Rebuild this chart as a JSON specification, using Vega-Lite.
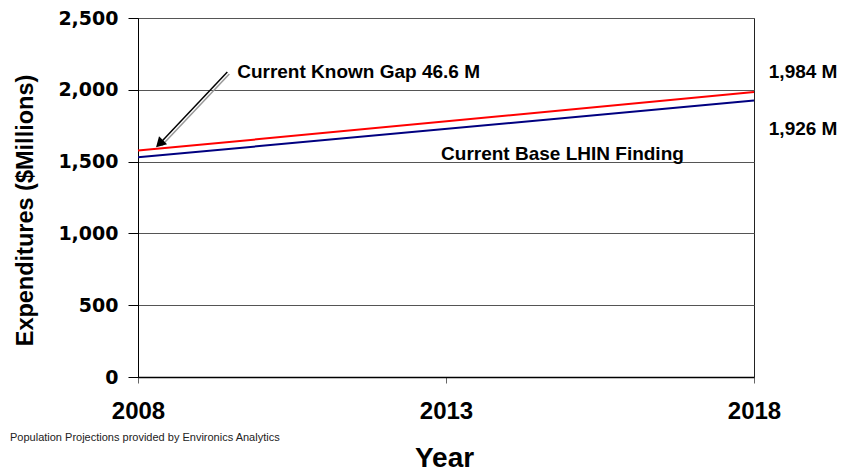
{
  "$schema": "https://vega.github.io/schema/vega-lite/v6.json",
  "width": 616,
  "height": 359,
  "autosize": {"type": "none"},
  "padding": {"left": 138, "top": 18, "right": 87, "bottom": 95},
  "background": "white",
  "config": {
    "view": {"stroke": "#222", "strokeWidth": 1},
    "font": "Liberation Sans"
  },
  "title": {
    "text": "Population Projections provided by Environics Analytics",
    "orient": "bottom",
    "anchor": "start",
    "frame": "group",
    "font": "Liberation Sans",
    "fontSize": 11,
    "fontWeight": "normal",
    "color": "#222",
    "baseline": "middle",
    "dx": -128,
    "offset": -34
  },
  "datasets": {
    "spending": [
      {"year": 2008, "value": 1576.6, "series": "Known Gap"},
      {"year": 2018, "value": 1984, "series": "Known Gap"},
      {"year": 2008, "value": 1530, "series": "Base LHIN"},
      {"year": 2018, "value": 1926, "series": "Base LHIN"}
    ],
    "notes": [
      {"year": 2009.61, "value": 2082, "label": "Current Known Gap 46.6 M"},
      {"year": 2012.92, "value": 1514, "label": "Current Base LHIN Finding"},
      {"year": 2018.24, "value": 2084, "label": "1,984 M"},
      {"year": 2018.24, "value": 1685, "label": "1,926 M"}
    ],
    "arrow": [
      {"year": 2009.45, "value": 2124, "year2": 2008.35, "value2": 1625}
    ]
  },
  "layer": [
    {
      "data": {"name": "spending"},
      "mark": {"type": "line", "strokeWidth": 2},
      "encoding": {
        "x": {
          "field": "year",
          "type": "quantitative",
          "scale": {"domain": [2008, 2018], "nice": false, "zero": false},
          "axis": {
            "values": [2008, 2013, 2018],
            "format": "d",
            "grid": false,
            "domainColor": "#000",
            "domainWidth": 1.5,
            "tickColor": "#666",
            "tickSize": 6,
            "labelFont": "Liberation Sans",
            "labelFontSize": 24,
            "labelFontWeight": "bold",
            "labelColor": "#000",
            "labelBaseline": "alphabetic",
            "labelPadding": 35,
            "labelFlush": false,
            "title": "Year",
            "titleFont": "Liberation Sans",
            "titleFontSize": 28,
            "titleFontWeight": "bold",
            "titleColor": "#000",
            "titleX": 306,
            "titleY": 89,
            "titleBaseline": "alphabetic"
          }
        },
        "y": {
          "field": "value",
          "type": "quantitative",
          "scale": {"domain": [0, 2500], "nice": false},
          "axis": {
            "values": [0, 500, 1000, 1500, 2000, 2500],
            "format": ",d",
            "grid": true,
            "gridColor": "#555",
            "gridWidth": 1,
            "domainColor": "#000",
            "tickColor": "#000",
            "tickSize": 10,
            "labelFont": "DejaVu Sans",
            "labelFontSize": 19,
            "labelFontWeight": "bold",
            "labelColor": "#000",
            "labelPadding": 10,
            "labelFlush": false,
            "title": "Expenditures ($Millions)",
            "titleFont": "Liberation Sans",
            "titleFontSize": 23.5,
            "titleFontWeight": "bold",
            "titleColor": "#000",
            "titleAngle": -90,
            "titleX": -113,
            "titleY": 192,
            "titleAlign": "center",
            "titleBaseline": "middle"
          }
        },
        "color": {
          "field": "series",
          "type": "nominal",
          "scale": {"domain": ["Known Gap", "Base LHIN"], "range": ["#ff0000", "#000080"]},
          "legend": null
        }
      }
    },
    {
      "data": {"name": "arrow"},
      "mark": {"type": "rule", "color": "#999", "strokeWidth": 1.5, "xOffset": 2, "yOffset": 2, "x2Offset": 2, "y2Offset": 2},
      "encoding": {
        "x": {"field": "year", "type": "quantitative"},
        "y": {"field": "value", "type": "quantitative"},
        "x2": {"field": "year2"},
        "y2": {"field": "value2"}
      }
    },
    {
      "data": {"name": "arrow"},
      "mark": {"type": "rule", "color": "#000", "strokeWidth": 1.5},
      "encoding": {
        "x": {"field": "year", "type": "quantitative"},
        "y": {"field": "value", "type": "quantitative"},
        "x2": {"field": "year2"},
        "y2": {"field": "value2"}
      }
    },
    {
      "data": {"name": "arrow"},
      "mark": {"type": "point", "shape": "triangle-up", "filled": true, "color": "#000", "size": 130, "angle": 225, "opacity": 1},
      "encoding": {
        "x": {"field": "year2", "type": "quantitative"},
        "y": {"field": "value2", "type": "quantitative"}
      }
    },
    {
      "data": {"name": "notes"},
      "mark": {"type": "text", "align": "left", "baseline": "alphabetic", "font": "Liberation Sans", "fontSize": 19, "fontWeight": "bold", "color": "#000"},
      "encoding": {
        "x": {"field": "year", "type": "quantitative"},
        "y": {"field": "value", "type": "quantitative"},
        "text": {"field": "label"}
      }
    }
  ]
}
